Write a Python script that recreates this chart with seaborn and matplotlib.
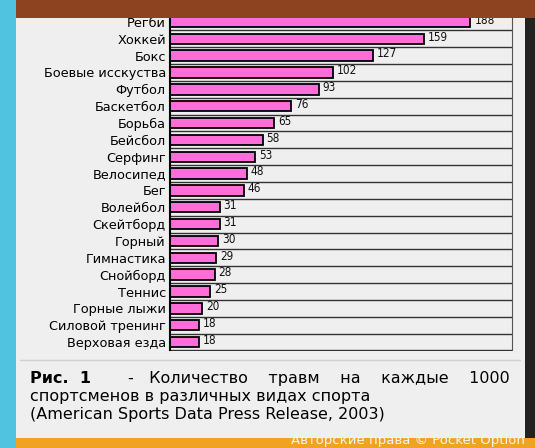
import matplotlib
matplotlib.use("Agg")
import matplotlib.pyplot as plt
import seaborn as sns
import pandas as pd
from matplotlib.patches import Rectangle

sports = ["Регби", "Хоккей", "Бокс", "Боевые исскуства", "Футбол", "Баскетбол", "Борьба",
          "Бейсбол", "Серфинг", "Велосипед", "Бег", "Волейбол", "Скейтборд", "Горный",
          "Гимнастика", "Снойборд", "Теннис", "Горные лыжи", "Силовой тренинг", "Верховая езда"]
injuries = [188, 159, 127, 102, 93, 76, 65, 58, 53, 48, 46, 31, 31, 30, 29, 28, 25, 20, 18, 18]

df = pd.DataFrame({"sport": sports, "val": injuries})
sns.set_style("white")
plt.rcParams['font.family'] = ['DejaVu Sans']

fig = plt.figure(figsize=(5.35, 4.48), dpi=100)
fig.patch.set_facecolor("#efefef")

def frect(x, y, w, h, c, z=10):
    fig.add_artist(Rectangle((x/535, 1-(y+h)/448), w/535, h/448, transform=fig.transFigure,
                             facecolor=c, edgecolor="none", zorder=z))

ax = fig.add_axes([170/535, 1-350.5/448, 342/535, 337/448])
ax.set_facecolor("#efefef")
sns.barplot(data=df, y="sport", x="val", ax=ax, color="#ff6ed8", saturation=1,
            edgecolor="black", linewidth=1.3, width=0.62)
ax.set_xlim(0, 214)
ax.set_ylim(len(sports)-0.5, -0.5)
for i in range(len(sports)+1):
    ax.axhline(i-0.5, color="#333333", lw=1, zorder=0)
for i, v in enumerate(injuries):
    ax.text(v+2.5, i-0.1, str(v), va="center", ha="left", fontsize=8.5, color="#111111",
            fontstretch="condensed")
ax.set_xticks([])
ax.set_yticks(range(len(sports)))
ax.set_yticklabels(sports, fontsize=9.3, color="black")
ax.tick_params(axis="y", length=0, pad=3)
ax.set_xlabel(""); ax.set_ylabel("")
for s in ["top", "bottom"]:
    ax.spines[s].set_visible(False)
ax.spines["left"].set_color("black"); ax.spines["left"].set_linewidth(1.5)
ax.spines["right"].set_color("#555555")

# frame / decorations
frect(0, 0, 16, 448, "#4fc3df")
frect(16, 0, 519, 18, "#8e4320")
frect(525, 18, 10, 430, "#222222")
frect(16, 438, 519, 10, "#f0a323")
fig.add_artist(plt.Line2D([20/535, 520/535], [1-360/448]*2, transform=fig.transFigure, color="#d0d0d0", lw=1))

fs = 11.5
fig.text(30/535, 1-378/448, "Рис.  1", fontsize=fs, fontweight="bold", va="center", ha="left", color="black")
fig.text(510/535, 1-378/448, "-   Количество    травм    на    каждые    1000", fontsize=fs, va="center", ha="right", color="black")
fig.text(30/535, 1-396/448, "спортсменов в различных видах спорта", fontsize=fs, va="center", ha="left", color="black")
fig.text(30/535, 1-414/448, "(American Sports Data Press Release, 2003)", fontsize=fs, va="center", ha="left", color="black")
fig.text(525/535, 1-440/448, "Авторские права © Pocket Option", fontsize=9.5, va="center", ha="right",
         color="#f4f4f4", zorder=20)

fig.savefig("out.png", dpi=100, facecolor=fig.get_facecolor())
